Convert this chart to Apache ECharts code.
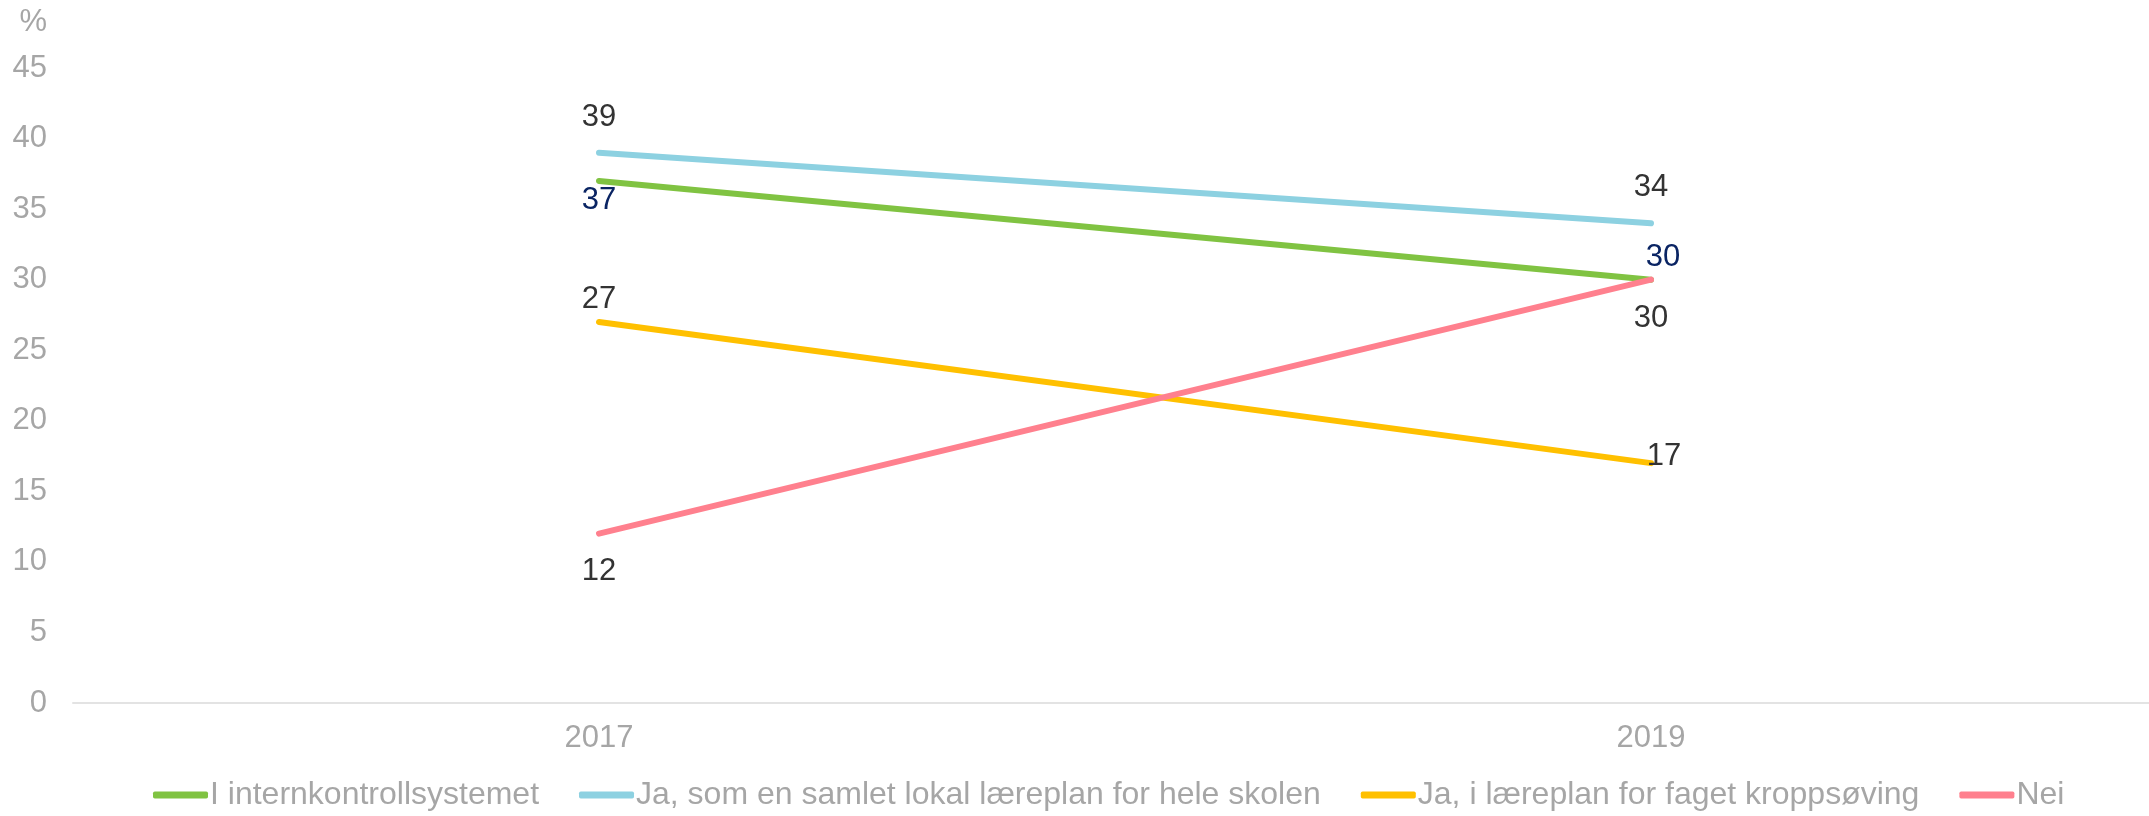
<!DOCTYPE html>
<html>
<head>
<meta charset="utf-8">
<script src="https://cdn.jsdelivr.net/npm/echarts@6/dist/echarts.min.js"></script>
<style>
html,body{margin:0;padding:0;background:#fff;}
#chart{width:2149px;height:816px;}
</style>
</head>
<body>
<div id="chart"></div>
<script>
const categories = ['2017', '2019'];
const seriesNames = ['I internkontrollsystemet', 'Ja, som en samlet lokal læreplan for hele skolen', 'Ja, i læreplan for faget kroppsøving', 'Nei'];
const internkontroll = [37, 30];
const samletLaereplan = [39, 34];
const kroppsoving = [27, 17];
const nei = [12, 30];
const yTicks = [0, 5, 10, 15, 20, 25, 30, 35, 40, 45];

const colors = ['#80C342', '#8DD1E1', '#FFC000', '#FF808E'];
const FONT = '"Liberation Sans", Arial, sans-serif';
const dark = '#333333';
const navy = '#0A2463';
const gray = '#A6A6A6';

// label placements per point (style only)
const labelCfg = [
  [{position:'bottom', distance:4.5, color:navy}, {position:'top', distance:6.5, offset:[12,0], color:navy}],
  [{position:'top', distance:19.5, color:dark}, {position:'top', distance:20, color:dark}],
  [{position:'top', distance:7.5, color:dark}, {position:'inside', offset:[13,-7], color:dark}],
  [{position:'bottom', distance:22.5, color:dark}, {position:'bottom', distance:23.5, color:dark}]
];

const values = [internkontroll, samletLaereplan, kroppsoving, nei];

const chart = echarts.init(document.getElementById('chart'));
chart.setOption({
  animation: false,
  color: colors,
  textStyle: {fontFamily: FONT},
  grid: {left: 73, right: -28, top: 68, bottom: 113, containLabel: false, outerBoundsMode: 'none'},
  legend: {
    bottom: 0,
    left: 148,
    itemWidth: 55,
    itemHeight: 7,
    itemGap: 40,
    icon: 'roundRect',
    textStyle: {fontFamily: FONT, fontSize: 32, color: gray, padding: [0,0,0,-3]},
    data: seriesNames
  },
  xAxis: {
    type: 'category',
    data: categories,
    boundaryGap: true,
    axisLine: {lineStyle: {color: '#E3E3E3', width: 2}},
    axisTick: {show: false},
    axisLabel: {fontFamily: FONT, fontSize: 31, color: gray, margin: 20}
  },
  yAxis: {
    type: 'value',
    min: yTicks[0],
    max: yTicks[yTicks.length - 1],
    interval: 5,
    name: '%',
    nameLocation: 'end',
    nameGap: 30,
    nameTextStyle: {fontFamily: FONT, fontSize: 31, color: gray, align: 'right', padding: [0, 26, 0, 0]},
    axisLine: {show: false},
    axisTick: {show: false},
    splitLine: {show: false},
    axisLabel: {fontFamily: FONT, fontSize: 31, color: gray, margin: 26}
  },
  series: seriesNames.map((name, si) => ({
    name: name,
    type: 'line',
    symbol: 'circle',
    symbolSize: 0,
    showSymbol: true,
    lineStyle: {width: 6, cap: 'round', color: colors[si]},
    itemStyle: {color: colors[si]},
    data: values[si].map((v, i) => ({
      value: v,
      label: Object.assign({show: true, fontFamily: FONT, fontSize: 31}, labelCfg[si][i])
    }))
  }))
});
</script>
</body>
</html>
